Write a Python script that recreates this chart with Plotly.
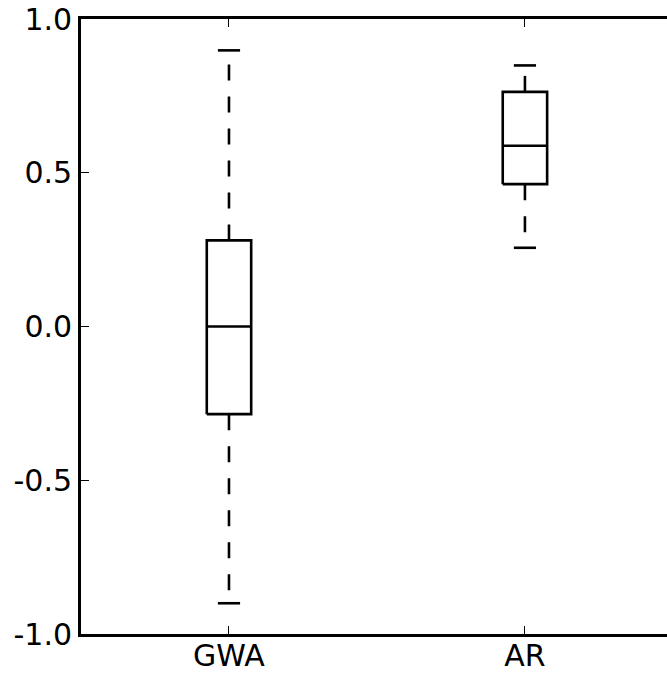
import plotly.graph_objects as go

# ---- data ----
categories = ["GWA", "AR"]
q1 = [-0.285, 0.463]
median = [0.0, 0.588]
q3 = [0.280, 0.763]
whisker_low = [-0.900, 0.256]
whisker_high = [0.898, 0.849]

y_tickvals = [-1.0, -0.5, 0.0, 0.5, 1.0]
y_ticktext = ["-1.0", "-0.5", "0.0", "0.5", "1.0"]

# ---- style ----
BOX_W = 0.15
CAP_W = BOX_W / 2
LW = 2.6
FONT = dict(family="DejaVu Sans", size=30, color="black")

fig = go.Figure()

for i, cat in enumerate(categories):
    pos = i + 1
    xl, xr = pos - BOX_W / 2, pos + BOX_W / 2
    # box
    fig.add_trace(go.Scatter(
        x=[xl, xr, xr, xl, xl], y=[q1[i], q1[i], q3[i], q3[i], q1[i]],
        mode="lines", line=dict(color="black", width=LW), hoverinfo="skip"))
    # median
    fig.add_trace(go.Scatter(
        x=[xl, xr], y=[median[i], median[i]],
        mode="lines", line=dict(color="black", width=LW), hoverinfo="skip"))
    # whiskers (dashed, starting at the box)
    fig.add_trace(go.Scatter(
        x=[pos, pos], y=[q3[i], whisker_high[i]],
        mode="lines", line=dict(color="black", width=LW, dash="16px,16px"), hoverinfo="skip"))
    fig.add_trace(go.Scatter(
        x=[pos, pos], y=[q1[i], whisker_low[i]],
        mode="lines", line=dict(color="black", width=LW, dash="16px,16px"), hoverinfo="skip"))
    # caps
    for w in (whisker_high[i], whisker_low[i]):
        fig.add_trace(go.Scatter(
            x=[pos - CAP_W / 2, pos + CAP_W / 2], y=[w, w],
            mode="lines", line=dict(color="black", width=LW), hoverinfo="skip"))

fig.update_layout(
    width=667, height=673,
    margin=dict(l=81, r=0, t=19, b=39),
    paper_bgcolor="white", plot_bgcolor="white",
    showlegend=False,
    font=FONT,
    xaxis=dict(
        range=[0.5, 2.48],
        tickvals=[i + 1 for i in range(len(categories))],
        ticktext=categories,
        showgrid=False, zeroline=False, automargin=False,
        showline=True, linecolor="black", linewidth=2.8, mirror="ticks",
        ticks="inside", ticklen=8, tickwidth=1.2, tickcolor="black",
        ticklabelstandoff=-7,
        tickfont=FONT,
    ),
    yaxis=dict(
        range=[-1.0, 1.0],
        tickvals=y_tickvals, ticktext=y_ticktext,
        showgrid=False, zeroline=False, automargin=False,
        showline=True, linecolor="black", linewidth=2.8,
        ticks="inside", ticklen=8, tickwidth=1.2, tickcolor="black",
        tickfont=FONT,
    ),
)

fig.write_html("out.html")
